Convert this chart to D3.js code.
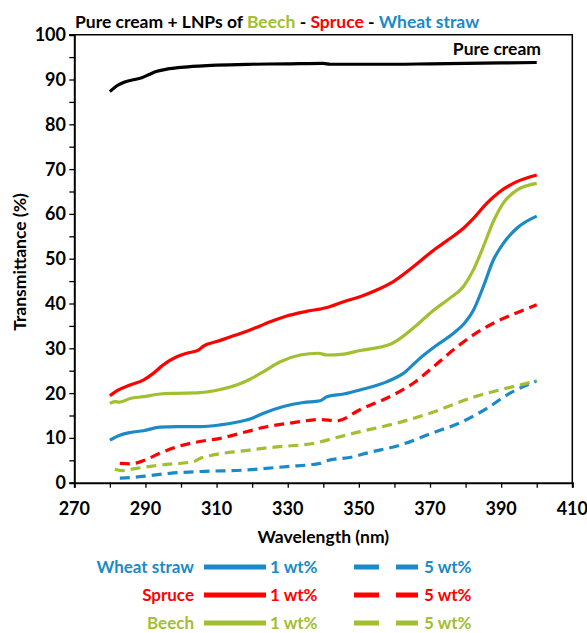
<!DOCTYPE html>
<html>
<head>
<meta charset="utf-8">
<script src="https://cdn.jsdelivr.net/npm/d3@7"></script>
<style>
  body { margin: 0; background: #fff; }
  svg text { font-family: Lato, "Open Sans", sans-serif; font-weight: bold; }
</style>
</head>
<body>
<svg id="chart" width="587" height="633"></svg>
<script>
// values: [wavelength nm, transmittance %]
const pureCream = [[280,87.3],[282,88.6],[284,89.4],[287,90.0],[289,90.4],[291,91.1],[293,91.8],[296,92.3],[300,92.7],[305,93.0],[310,93.2],[320,93.4],[330,93.5],[340,93.6],[342,93.4],[350,93.4],[360,93.4],[370,93.5],[380,93.6],[390,93.7],[400,93.8]];
const spruce1 = [[280,19.4],[281.9,20.5],[285.7,21.8],[289.4,22.9],[292.2,24.4],[295,26.3],[298.8,28.1],[301.6,28.9],[304.9,29.6],[306.3,30.5],[310,31.5],[315.6,33.0],[319.4,34.1],[322.2,35.0],[326,36.2],[329.7,37.2],[335,38.2],[341,39.1],[345.7,40.4],[350.3,41.5],[355,43.0],[359.7,44.9],[365.3,48.2],[371,51.9],[375.6,54.5],[379.4,56.8],[382.2,59.0],[386,62.4],[389.7,65.0],[394.4,67.2],[400,68.7]];
const beech1 = [[280,17.7],[281.4,18.1],[282.8,18.0],[285.7,18.8],[289.4,19.2],[294.1,19.8],[298.8,19.95],[305.3,20.1],[311,20.8],[315.6,21.8],[319.4,23.1],[323.2,24.8],[327.9,27.0],[333.5,28.5],[338.6,28.9],[341,28.5],[345.7,28.7],[350.3,29.5],[358.8,30.9],[361.6,32.2],[366.3,35.2],[371,38.5],[375.6,41.2],[379.4,43.8],[382.2,47.5],[385,52.7],[387.8,58.3],[390.6,62.4],[394.4,65.3],[400,66.8]];
const wheat1 = [[280,9.5],[282.8,10.6],[285.7,11.2],[289.4,11.6],[294.1,12.4],[298.8,12.5],[305.3,12.5],[311,12.9],[315.6,13.5],[319.4,14.2],[323.2,15.5],[328.8,17.0],[334.4,17.9],[339.1,18.3],[341,19.2],[345.7,19.8],[350.3,20.7],[357.8,22.5],[362.5,24.4],[367.2,27.8],[371.9,30.7],[376.5,33.3],[379.8,35.7],[382.2,38.5],[385,43.8],[387.8,49.7],[390.6,53.4],[394.4,56.8],[400,59.5]];
const spruce5 = [[282.8,4.3],[285.7,4.2],[290.3,5.2],[294.1,6.6],[298.8,8.0],[305.3,9.2],[311,9.9],[317.5,11.2],[324.1,12.5],[331.6,13.4],[339.1,14.1],[343.8,13.8],[350.3,16.3],[359.7,19.6],[365.3,22.2],[371,25.9],[376.5,29.6],[382.2,33.0],[387.8,35.6],[393.4,37.6],[400,39.7]];
const beech5 = [[281.4,3.0],[283.3,2.7],[287.5,3.2],[294.1,3.95],[303.5,4.7],[305.3,5.4],[309.1,6.2],[317.5,7.1],[326.9,8.0],[333.5,8.4],[338.1,8.9],[341,9.5],[350.3,11.4],[359.7,13.1],[371,15.8],[382.2,19.1],[391.6,21.1],[400,22.7]];
const wheat5 = [[282.8,1.0],[286.6,1.2],[291.3,1.6],[296.9,2.1],[305.3,2.5],[317.5,2.8],[329.7,3.6],[339.1,4.3],[341,4.9],[348.5,5.8],[352.2,6.6],[361.6,8.4],[371,11.2],[378.5,13.4],[386,16.6],[392.5,20.0],[400,22.7]];

const xTicks = [270, 290, 310, 330, 350, 370, 390, 410];
const yTicks = [0, 10, 20, 30, 40, 50, 60, 70, 80, 90, 100];

const BLUE = "#1b8ac6", RED = "#ff0000", GREEN = "#a0c030";

const series = [
  { values: wheat5,   color: BLUE,   dash: true },
  { values: beech5,   color: GREEN,  dash: true },
  { values: spruce5,  color: RED,    dash: true },
  { values: wheat1,   color: BLUE,   dash: false },
  { values: beech1,   color: GREEN,  dash: false },
  { values: spruce1,  color: RED,    dash: false },
  { values: pureCream, color: "#000", dash: false }
];

const legendRows = [
  { name: "Wheat straw", color: BLUE },
  { name: "Spruce", color: RED },
  { name: "Beech", color: GREEN }
];

const M = { left: 74.3, right: 572.3, top: 34.7, bottom: 482.7 };

const svg = d3.select("#chart");

/* Scales */
const x = d3.scaleLinear().domain([270, 410]).range([M.left, M.right]);
const y = d3.scaleLinear().domain([0, 100]).range([M.bottom, M.top]);

/* frame (top + right) */
svg.append("path")
  .attr("d", `M${M.left - 5},${M.top}H${M.right}V${M.bottom}`)
  .attr("fill", "none")
  .attr("stroke", "#000")
  .attr("stroke-width", 1.5);

/* Axes */
const yAxis = d3.axisLeft(y).tickValues(d3.range(0, 101, 5)).tickSize(5).tickFormat("");
const gy = svg.append("g").attr("transform", `translate(${M.left},0)`).call(yAxis);
gy.select(".domain").attr("stroke-width", 2);
gy.selectAll(".tick line").attr("stroke-width", 1.3);

svg.append("g").selectAll("text")
  .data(yTicks).enter()
  .append("text")
  .attr("x", 66)
  .attr("y", d => y(d))
  .attr("dy", "0.36em")
  .attr("text-anchor", "end")
  .attr("font-size", 18)
  .text(d => d);

const xAxis = d3.axisBottom(x).tickValues(d3.range(270, 411, 10)).tickSize(5).tickFormat("");
const gx = svg.append("g").attr("transform", `translate(0,${M.bottom})`).call(xAxis);
gx.select(".domain").attr("stroke-width", 2);
gx.selectAll(".tick line").attr("stroke-width", 1.3);

svg.append("g").selectAll("text")
  .data(xTicks).enter()
  .append("text")
  .attr("x", d => x(d))
  .attr("y", 515)
  .attr("text-anchor", "middle")
  .attr("font-size", 18)
  .text(d => d);

svg.append("text")
  .attr("x", (M.left + M.right) / 2)
  .attr("y", 543)
  .attr("text-anchor", "middle")
  .attr("font-size", 17.5)
  .text("Wavelength (nm)");

svg.append("text")
  .attr("transform", "translate(26,262) rotate(-90)")
  .attr("text-anchor", "middle")
  .attr("font-size", 17.5)
  .text("Transmittance (%)");

/* Title */
const title = svg.append("text").attr("x", 75).attr("y", 28).attr("font-size", 17.5);
title.append("tspan").text("Pure cream + LNPs of ");
title.append("tspan").attr("fill", GREEN).text("Beech");
title.append("tspan").text(" - ");
title.append("tspan").attr("fill", RED).text("Spruce");
title.append("tspan").text(" - ");
title.append("tspan").attr("fill", BLUE).text("Wheat straw");

/* Lines */
const line = d3.line()
  .x(d => x(d[0]))
  .y(d => y(d[1]))
  .curve(d3.curveMonotoneX);

svg.append("g").selectAll("path")
  .data(series).enter()
  .append("path")
  .attr("d", d => line(d.values))
  .attr("fill", "none")
  .attr("stroke", d => d.color)
  .attr("stroke-width", 3.2)
  .attr("stroke-dasharray", d => d.dash ? "10,6" : null);

svg.append("text")
  .attr("x", 541)
  .attr("y", 55)
  .attr("text-anchor", "end")
  .attr("font-size", 17.5)
  .text("Pure cream");

/* Legend */
const leg = svg.append("g").selectAll("g")
  .data(legendRows).enter()
  .append("g")
  .attr("transform", (d, i) => `translate(0,${567 + i * 28})`);

leg.append("text")
  .attr("x", 194).attr("dy", "0.35em")
  .attr("text-anchor", "end")
  .attr("font-size", 17)
  .attr("fill", d => d.color)
  .text(d => d.name);

leg.append("line")
  .attr("x1", 204).attr("x2", 266)
  .attr("stroke", d => d.color).attr("stroke-width", 5);

leg.append("text")
  .attr("x", 270).attr("dy", "0.35em")
  .attr("font-size", 17)
  .attr("fill", d => d.color)
  .text("1 wt%");

leg.append("line")
  .attr("x1", 354).attr("x2", 418)
  .attr("stroke", d => d.color).attr("stroke-width", 5)
  .attr("stroke-dasharray", "25,17");

leg.append("text")
  .attr("x", 424).attr("dy", "0.35em")
  .attr("font-size", 17)
  .attr("fill", d => d.color)
  .text("5 wt%");
</script>
</body>
</html>
